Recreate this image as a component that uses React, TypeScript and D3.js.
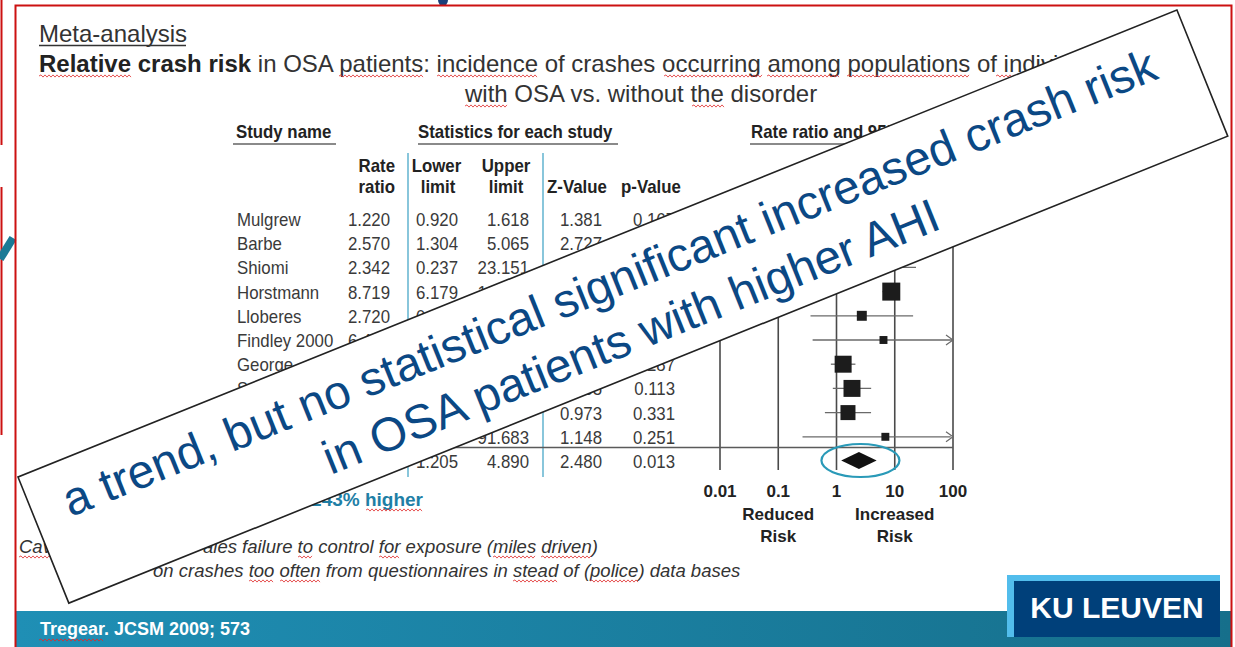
import React from "react";
import * as d3 from "d3";

// ---------- data ----------
const studies = ["Mulgrew", "Barbe", "Shiomi", "Horstmann", "Lloberes", "Findley 2000", "George", "Stoohs", "Young", "Findley 1988"];
const rateRatio = [1.22, 2.57, 2.342, 8.719, 2.72, 6.405, 1.3, 1.845, 1.574, 6.9];
const lowerLimit = [0.92, 1.304, 0.237, 6.179, 0.358, 0.389, 0.8, 0.865, 0.632, 0.261];
const upperLimit = [1.618, 5.065, 23.151, 12.303, 20.667, 105.461, 2.112, 3.935, 3.919, 91.683];
const zValue = [1.381, 2.727, 0.728, 12.335, 0.967, 1.3, 1.065, 1.585, 0.973, 1.148];
const pValue = [0.167, 0.006, 0.467, 0.0, 0.334, 0.194, 0.287, 0.113, 0.331, 0.251];
const weight = [17.0, 10.3, 1.9, 17.0, 5.2, 3.3, 15.1, 15.1, 11.8, 3.3];
const summaryStats = [2.427, 1.205, 4.89, 2.48, 0.013]; // rate ratio, lower, upper, z, p
const axisTicks = [0.01, 0.1, 1, 10, 100];
const axisTickLabels = ["0.01", "0.1", "1", "10", "100"];
const overlayLines = ["a trend, but no statistical significant increased crash risk", "in OSA patients with higher AHI"];

const F = "'Liberation Sans', Arial, Helvetica, sans-serif";

function wave(x1: number, x2: number, y: number) {
  let d = `M${x1},${y}`;
  let up = true;
  for (let xx = x1 + 2; xx <= x2; xx += 2) {
    d += `L${xx},${y + (up ? -1.1 : 1.1)}`;
    up = !up;
  }
  return d;
}

const CT = ({ x, y, anchor = "start", sx = 0.935, size = 18, weight = "normal", fill = "#3a3a3a", children }: any) => (
  <text
    transform={`translate(${x},${y}) scale(${sx},1)`}
    textAnchor={anchor}
    fontSize={size}
    fontWeight={weight}
    fill={fill}
    fontFamily={F}
  >
    {children}
  </text>
);

export default function App() {
  const x = d3.scaleLog().domain([axisTicks[0], axisTicks[axisTicks.length - 1]]).range([720, 953]);
  const rowBase = d3.scaleLinear().domain([0, studies.length]).range([226, 468]);
  const size = d3.scaleSqrt().domain([0, d3.max(weight) as number]).range([0, 18]);
  const fmt = d3.format(".3f");
  const xMin = x.range()[0];
  const xMax = x.range()[1];

  const waves: [number, number, number][] = [
    [39, 132, 76], [339, 423, 76], [437, 538, 76], [664, 763, 76], [767, 840, 76], [847, 970, 76], [996, 1100, 76],
    [465, 508, 106], [692, 725, 106],
    [366, 423, 510],
    [19, 60, 557], [298, 313, 557], [379, 400, 557], [493, 536, 557], [541, 591, 557],
    [249, 274, 581], [280, 321, 581], [513, 558, 581], [590, 638, 581],
    [39, 103, 640],
  ];

  const sy = summaryStats;
  const syc = rowBase(studies.length) - 7.5;

  return (
    <svg width={1235} height={647} style={{ position: "absolute", left: 0, top: 0 }} fontFamily={F}>
      <defs>
        <linearGradient id="band" x1="0" x2="1" y1="0" y2="0">
          <stop offset="0" stopColor="#1f8fb5" />
          <stop offset="1" stopColor="#166f8b" />
        </linearGradient>
      </defs>
      <rect width={1235} height={647} fill="#fff" />

      {/* outer slide decorations */}
      <line x1={1.5} x2={1.5} y1={0} y2={145} stroke="#cc1111" strokeWidth={2} />
      <line x1={1.5} x2={1.5} y1={187} y2={435} stroke="#cc1111" strokeWidth={2} />
      <line x1={0} y1={259} x2={13} y2={238} stroke="#1a7a96" strokeWidth={8} />
      <ellipse cx={443} cy={0} rx={5} ry={6} fill="#1a3f7a" />

      {/* footer band */}
      <rect x={16} y={611} width={1215} height={36} fill="url(#band)" />
      <text x={40} y={635} fontSize={18} fontWeight="bold" fill="#fff">Tregear. JCSM 2009; 573</text>
      <rect x={1007} y={575} width={213} height={62} fill="#52bdec" />
      <rect x={1014} y={581} width={206} height={56} fill="#00407a" />
      <text x={1117} y={618} textAnchor="middle" fontSize={30} fontWeight="bold" fill="#fff">KU LEUVEN</text>

      {/* red border */}
      <path d="M15.5,647 V5.5 H1231.5 V647" fill="none" stroke="#cc1111" strokeWidth={2} />

      {/* title */}
      <text x={39} y={42} fontSize={24} fill="#333">Meta-analysis</text>
      <line x1={39} x2={186} y1={45.5} y2={45.5} stroke="#333" strokeWidth={1.4} />
      <text x={39} y={72} fontSize={24} fill="#333">
        <tspan fontWeight="bold" fill="#222">Relative crash risk</tspan>
        <tspan> in OSA patients: incidence of crashes occurring among populations of individuals</tspan>
      </text>
      <text x={465} y={102} fontSize={24} fill="#333">with OSA vs. without the disorder</text>

      {/* table headers */}
      <CT x={236} y={138} weight="bold" fill="#222">Study name</CT>
      <rect x={233} y={143} width={103} height={2} fill="#8a8a8a" />
      <CT x={418} y={138} weight="bold" fill="#222">Statistics for each study</CT>
      <rect x={418} y={143} width={200} height={2} fill="#8a8a8a" />
      <CT x={837} y={138} anchor="middle" weight="bold" fill="#222">Rate ratio and 95% CI</CT>
      <rect x={750} y={143} width={174} height={2} fill="#8a8a8a" />

      <CT x={395} y={172} anchor="end" weight="bold" fill="#222">Rate</CT>
      <CT x={395} y={193} anchor="end" weight="bold" fill="#222">ratio</CT>
      <CT x={436.5} y={172} anchor="middle" weight="bold" fill="#222">Lower</CT>
      <CT x={438} y={193} anchor="middle" weight="bold" fill="#222">limit</CT>
      <CT x={506} y={172} anchor="middle" weight="bold" fill="#222">Upper</CT>
      <CT x={506} y={193} anchor="middle" weight="bold" fill="#222">limit</CT>
      <CT x={577} y={193} anchor="middle" weight="bold" fill="#222">Z-Value</CT>
      <CT x={651} y={193} anchor="middle" weight="bold" fill="#222">p-Value</CT>

      <line x1={408} x2={408} y1={153} y2={477} stroke="#6bb8d2" strokeWidth={1.6} />
      <line x1={543} x2={543} y1={153} y2={477} stroke="#6bb8d2" strokeWidth={1.6} />

      {/* table rows */}
      {studies.map((s, i) => {
        const y = rowBase(i);
        return (
          <g key={s}>
            <CT x={237} y={y}>{s}</CT>
            <CT x={390} y={y} anchor="end">{fmt(rateRatio[i])}</CT>
            <CT x={458} y={y} anchor="end">{fmt(lowerLimit[i])}</CT>
            <CT x={529} y={y} anchor="end">{fmt(upperLimit[i])}</CT>
            <CT x={602} y={y} anchor="end">{fmt(zValue[i])}</CT>
            <CT x={675} y={y} anchor="end">{fmt(pValue[i])}</CT>
          </g>
        );
      })}
      <g>
        <CT x={390} y={rowBase(studies.length)} anchor="end">{fmt(sy[0])}</CT>
        <CT x={458} y={rowBase(studies.length)} anchor="end">{fmt(sy[1])}</CT>
        <CT x={529} y={rowBase(studies.length)} anchor="end">{fmt(sy[2])}</CT>
        <CT x={602} y={rowBase(studies.length)} anchor="end">{fmt(sy[3])}</CT>
        <CT x={675} y={rowBase(studies.length)} anchor="end">{fmt(sy[4])}</CT>
      </g>

      {/* forest plot */}
      {axisTicks.map((t) => (
        <line key={t} x1={x(t)} x2={x(t)} y1={206} y2={470} stroke="#4a4a4a" strokeWidth={1.6} />
      ))}
      <line x1={233} x2={xMax} y1={447.5} y2={447.5} stroke="#5a5a5a" strokeWidth={1.4} />
      {studies.map((s, i) => {
        const yc = rowBase(i) - 7;
        const xl = Math.max(x(lowerLimit[i]), xMin);
        const xu = Math.min(x(upperLimit[i]), xMax);
        const arrow = xMax - x(upperLimit[i]) < 3;
        const sz = size(weight[i]);
        return (
          <g key={s}>
            <line x1={xl} x2={xu} y1={yc} y2={yc} stroke="#6a6a6a" strokeWidth={1.3} />
            {arrow && (
              <path d={`M${xMax - 7},${yc - 5}L${xMax},${yc}L${xMax - 7},${yc + 5}`} fill="none" stroke="#6a6a6a" strokeWidth={1.2} />
            )}
            <rect x={x(rateRatio[i]) - sz / 2} y={yc - sz / 2} width={sz} height={sz} fill="#1c1c1c" />
          </g>
        );
      })}
      <path
        d={`M${x(sy[1])},${syc}L${x(sy[0])},${syc - 8.5}L${x(sy[2])},${syc}L${x(sy[0])},${syc + 8.5}Z`}
        fill="#111"
      />
      <ellipse cx={x(sy[0]) + 1.5} cy={syc} rx={39} ry={16.5} fill="none" stroke="#2a9ab8" strokeWidth={2.2} />

      {axisTicks.map((t, i) => (
        <text key={t} x={x(t)} y={497} textAnchor="middle" fontSize={17} fontWeight="bold" fill="#222">
          {axisTickLabels[i]}
        </text>
      ))}
      <text x={x(0.1)} y={520} textAnchor="middle" fontSize={17} fontWeight="bold" fill="#222">Reduced</text>
      <text x={x(0.1)} y={542} textAnchor="middle" fontSize={17} fontWeight="bold" fill="#222">Risk</text>
      <text x={x(10)} y={520} textAnchor="middle" fontSize={17} fontWeight="bold" fill="#222">Increased</text>
      <text x={x(10)} y={542} textAnchor="middle" fontSize={17} fontWeight="bold" fill="#222">Risk</text>

      {/* notes */}
      <text x={423} y={506} textAnchor="end" fontSize={19} fontWeight="bold" fill="#1f7fa6">Crash risk 243% higher</text>
      <text x={19} y={553} fontSize={18.5} fontStyle="italic" fill="#333">Caveats: many</text>
      <text x={203} y={553} fontSize={18.5} fontStyle="italic" fill="#333">ales failure to control for exposure (miles driven)</text>
      <text x={153} y={577} fontSize={18.5} fontStyle="italic" fill="#333">on crashes too often from questionnaires in stead of (police) data bases</text>

      {/* spell-check wavy underlines */}
      {waves.map((w, i) => (
        <path key={i} d={wave(w[0], w[1], w[2])} fill="none" stroke="#e02a2a" strokeWidth={0.8} />
      ))}

      {/* overlay annotation */}
      <g transform="translate(18,477) rotate(-21.95)">
        <rect x={0} y={0} width={1249.5} height={136} fill="#fff" stroke="#222" strokeWidth={1.6} />
        {overlayLines.map((l, i) => (
          <text key={i} x={621} y={57 + i * 58} textAnchor="middle" fontSize={47.5} fill="#0b4884">
            {l}
          </text>
        ))}
      </g>
    </svg>
  );
}
